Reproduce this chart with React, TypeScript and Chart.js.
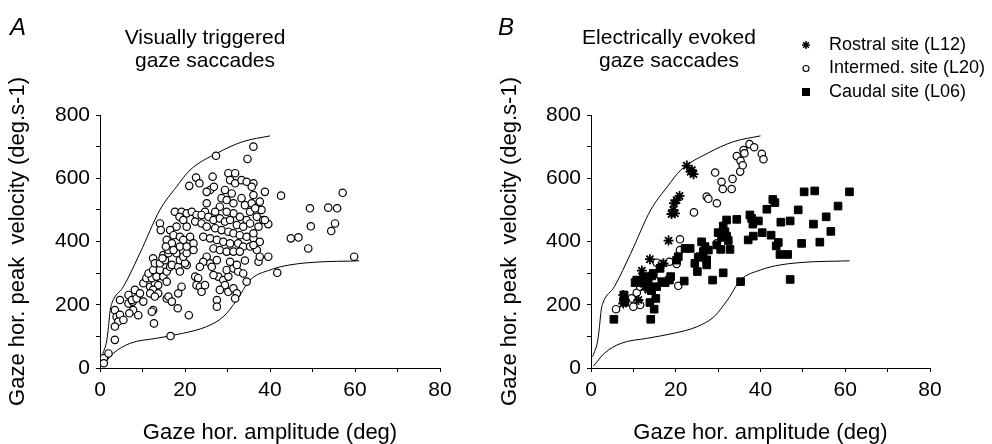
import React, { useEffect, useRef } from 'react';
import { Chart, registerables } from 'chart.js';

Chart.register(...registerables);

const FONT = '"Liberation Sans", Arial, Helvetica, sans-serif';

type Pt = [number, number];

// Tick labels
const xTickLabels = [0, 20, 40, 60, 80];
const yTickLabels = [0, 200, 400, 600, 800];

// Envelope curves (same in both panels)
const upperEnvelope: Pt[] = [
  [0.4, 36], [1.6, 88], [2.0, 131], [2.4, 183], [2.8, 205], [5.5, 257], [9.4, 363],
  [14.1, 500], [18, 573], [21.2, 626], [27.5, 679], [33.7, 716], [40, 734],
];
const lowerEnvelope: Pt[] = [
  [0.6, 6], [3.1, 46], [7.1, 78], [13.3, 94], [19.6, 110], [25.1, 131], [29, 162],
  [32.2, 215], [35.3, 278], [40, 310], [44.7, 326], [52.5, 336], [58.8, 338], [61, 339],
];

// Panel A: visually triggered gaze saccades
const visualSaccades: Pt[] = [
  [0.9, 31], [2.0, 46], [0.9, 15], [3.5, 89],
  [3.5, 183], [3.9, 162], [4.7, 168], [4.3, 147], [5.5, 152], [3.5, 131], [4.7, 215],
  [6.7, 204], [7.7, 210], [7.8, 183], [6.9, 173], [9.0, 167], [6.7, 231], [7.5, 215], [8.6, 220],
  [8.2, 247], [9.4, 236], [10.2, 210], [10.2, 268], [10.9, 284],
  [11.8, 257], [12.9, 268], [13.7, 262], [12.5, 247], [11.8, 236], [13.7, 236], [12.9, 226],
  [15.7, 220], [16.1, 226], [16.9, 210], [18.4, 236], [19.2, 257],
  [12.5, 183], [12.2, 178], [12.7, 141], [18.3, 189], [20.9, 167], [16.6, 101],
  [12.2, 284], [13.3, 289], [14.9, 289], [15.7, 273], [11.4, 299], [12.5, 310], [14.1, 310],
  [15.7, 305], [16.5, 320], [16.9, 326], [18.4, 320], [18.8, 305], [20.4, 326], [18.8, 341],
  [12.5, 347], [12.9, 331], [14.1, 331], [15.3, 341], [14.9, 357], [16.1, 363], [18.0, 363], [19.6, 368],
  [20.0, 331], [19.6, 352], [20.4, 363],
  [22.4, 289], [23.1, 284], [22.7, 262], [23.5, 257], [23.9, 241], [24.7, 262],
  [27.5, 215], [27.5, 194],
  [17.6, 494], [19.2, 494], [20.4, 489], [21.6, 494], [22.7, 484], [18.7, 478], [19.6, 468],
  [18.0, 447], [20.4, 447], [22.4, 463], [23.9, 457], [14.1, 457], [14.3, 436], [16.5, 436],
  [17.3, 420], [15.7, 405], [16.9, 394], [18.8, 415], [19.6, 405], [21.2, 415], [16.1, 373],
  [17.3, 373], [18.8, 384], [20.4, 384], [22.0, 394], [22.0, 373], [15.5, 384], [14.7, 347],
  [21.0, 576], [22.6, 602], [23.4, 584],
  [29.4, 563], [31.0, 552], [28.6, 537], [29.8, 531], [31.4, 521], [33.3, 537], [34.1, 515],
  [35.7, 521], [37.6, 526], [38.0, 500], [36.9, 478], [35.3, 494], [34.5, 468], [32.9, 478],
  [31.4, 489], [29.8, 494], [28.2, 510], [27.1, 494], [25.1, 521], [24.7, 494], [23.9, 484],
  [25.5, 478], [26.7, 468], [28.2, 473], [29.4, 463], [30.6, 468], [32.2, 452], [33.7, 447],
  [35.3, 457], [37.3, 447], [38.4, 468], [25.1, 447], [27.1, 442], [28.6, 436], [30.2, 431],
  [31.4, 426], [32.9, 420], [34.5, 415], [36.1, 410], [37.6, 399], [24.3, 415], [25.9, 410],
  [27.5, 405], [29.0, 399], [30.6, 394], [32.5, 394], [33.7, 384], [35.3, 384], [36.9, 373],
  [26.7, 378], [28.2, 373], [29.8, 368], [31.4, 368], [32.9, 368],
  [26.5, 605], [30.2, 616], [31.8, 616], [30.6, 594], [31.8, 584], [33.3, 594], [34.5, 589],
  [36.1, 584], [35.7, 573], [36.1, 547], [38.8, 557], [25.9, 563], [25.1, 557],
  [27.3, 671], [34.7, 661], [36.1, 700], [26.8, 573],
  [27.8, 289], [26.7, 294], [29.0, 278], [30.2, 289], [29.8, 310], [31.4, 315], [32.5, 305],
  [33.7, 299], [34.5, 273], [29.4, 262], [28.2, 247], [30.2, 241], [31.4, 252], [32.2, 236],
  [31.8, 220], [37.3, 336], [37.6, 352],
  [25.1, 352], [27.5, 341], [25.9, 331], [24.3, 336], [23.5, 320], [26.3, 320], [30.6, 336],
  [32.2, 326], [34.1, 340],
  [36.1, 426], [36.1, 389], [39.6, 352], [39.6, 455], [38.8, 468], [36.5, 505],
  [42.6, 545], [41.7, 301],
  [44.9, 410], [46.7, 413], [49.0, 378], [49.4, 505], [49.6, 448], [53.7, 507], [55.8, 505],
  [55.3, 457], [54.4, 433], [57.1, 554], [59.8, 352],
];

// Panel B: electrically evoked gaze saccades
const rostralSite: Pt[] = [
  [22.6, 640], [23.8, 626], [24.2, 613], [23.5, 620], [20.9, 544], [20.2, 531], [19.6, 521],
  [19.4, 500], [19.0, 487], [19.8, 489], [18.3, 403], [13.9, 344], [12.0, 308], [12.4, 268],
  [12.7, 257], [13.5, 247], [7.6, 231], [8.0, 215], [7.6, 204], [11.2, 215], [13.9, 252], [17.1, 331],
];
const intermedSite: Pt[] = [
  [5.9, 186], [7.6, 215], [9.6, 220], [11.6, 199], [10.0, 194], [10.8, 238], [11.6, 257],
  [15.1, 275], [15.5, 333], [16.7, 329], [18.5, 336], [20.2, 329], [21.0, 407], [21.0, 373],
  [20.6, 260], [24.3, 492], [27.3, 542], [27.7, 535], [29.7, 521], [29.3, 618], [30.8, 589],
  [31.1, 566], [33.2, 566], [33.4, 598], [34.4, 670], [35.3, 655], [35.2, 621], [35.8, 641],
  [36.0, 689], [36.2, 679], [37.4, 708], [38.5, 698], [40.3, 677], [40.7, 660], [29.7, 394],
];
const caudalSite: Pt[] = [
  [5.4, 154], [14.1, 154], [14.9, 186], [13.9, 207], [15.3, 220], [14.3, 245], [15.5, 257],
  [13.5, 273], [14.3, 291], [14.7, 299], [10.4, 270], [10.8, 278], [12.4, 270], [12.4, 289],
  [7.8, 231], [8.0, 208],
  [16.3, 315], [16.7, 273], [17.5, 270], [18.5, 278], [18.8, 289], [20.6, 352], [20.2, 341],
  [22.2, 378], [23.4, 378], [22.0, 275], [24.5, 331], [25.3, 350], [25.1, 305], [25.7, 352],
  [26.1, 399], [26.9, 384], [27.7, 373], [26.5, 368], [27.3, 342], [27.3, 326], [28.7, 278],
  [30.0, 428], [31.6, 431], [32.0, 417], [30.8, 413], [32.4, 403], [32.8, 375], [30.6, 375],
  [29.7, 389], [31.2, 301], [35.3, 273], [34.4, 470], [32.0, 468], [31.2, 449], [37.5, 484],
  [37.9, 473], [38.2, 455], [39.5, 465], [41.5, 502], [42.9, 533], [43.4, 523], [48.9, 500],
  [50.3, 557], [44.8, 461], [47.0, 465], [40.4, 428], [42.5, 420], [38.3, 417], [37.1, 405],
  [44.2, 397], [43.7, 386], [49.7, 394], [44.6, 359], [46.4, 359], [47.0, 280],
  [52.8, 560], [61.0, 557], [58.3, 512], [55.5, 478], [56.6, 432], [52.5, 455], [54.0, 398],
];

const toXY = (pts: Pt[]) => pts.map(([x, y]) => ({ x, y }));

function buildScales(yAxisWidth: number, yTitlePad: number) {
  const tickFont = { family: FONT, size: 21 };
  const titleFont = { family: FONT, size: 22, lineHeight: 1 };
  return {
    x: {
      type: 'linear',
      min: 0,
      max: 80,
      ticks: {
        stepSize: 10,
        autoSkip: false,
        maxRotation: 0,
        color: '#000',
        font: tickFont,
        padding: 6,
        callback: (v: number) => (xTickLabels.includes(v) ? String(v) : ''),
      },
      grid: { display: true, drawOnChartArea: false, drawTicks: true, tickLength: 4, color: '#000' },
      border: { display: true, color: '#000', width: 1 },
      title: {
        display: true,
        text: 'Gaze hor. amplitude (deg)',
        color: '#000',
        font: titleFont,
        padding: { top: 0, bottom: 0 },
      },
      afterFit: (s: any) => {
        s.height = 76;
      },
    },
    y: {
      type: 'linear',
      min: 0,
      max: 800,
      ticks: {
        stepSize: 100,
        autoSkip: false,
        color: '#000',
        font: tickFont,
        padding: 6,
        callback: (v: number) => (yTickLabels.includes(v) ? String(v) : ''),
      },
      grid: { display: true, drawOnChartArea: false, drawTicks: true, tickLength: 4, color: '#000' },
      border: { display: true, color: '#000', width: 1 },
      title: {
        display: true,
        text: 'Gaze hor. peak  velocity (deg.s-1)',
        color: '#000',
        font: titleFont,
        padding: { top: yTitlePad, bottom: 0 },
      },
      afterFit: (s: any) => {
        s.width = yAxisWidth;
      },
    },
  };
}

function envelopeDatasets() {
  const base = {
    showLine: true,
    pointRadius: 0,
    borderColor: '#000',
    borderWidth: 1,
    cubicInterpolationMode: 'monotone',
    fill: false,
    order: 2,
  };
  return [
    { ...base, label: 'upper', data: toXY(upperEnvelope) },
    { ...base, label: 'lower', data: toXY(lowerEnvelope) },
  ];
}

function drawAsterisk(ctx: CanvasRenderingContext2D, x: number, y: number, r: number) {
  ctx.beginPath();
  for (let i = 0; i < 4; i++) {
    const a = (i * Math.PI) / 4;
    ctx.moveTo(x - r * Math.cos(a), y - r * Math.sin(a));
    ctx.lineTo(x + r * Math.cos(a), y + r * Math.sin(a));
  }
  ctx.stroke();
}

function makeTextPlugin(letter: string, letterX: number, titleLines: string[], titleX: number, legend: boolean) {
  return {
    id: 'panelText' + letter,
    afterDraw(chart: any) {
      const ctx: CanvasRenderingContext2D = chart.ctx;
      ctx.save();
      ctx.fillStyle = '#000';
      ctx.strokeStyle = '#000';
      ctx.textBaseline = 'middle';
      ctx.textAlign = 'center';
      ctx.font = `italic 24px ${FONT}`;
      ctx.fillText(letter, letterX, 28);
      ctx.textBaseline = 'alphabetic';
      ctx.font = `21px ${FONT}`;
      titleLines.forEach((t, i) => ctx.fillText(t, titleX, 44 + i * 22.5));
      if (legend) {
        const items = ['Rostral site (L12)', 'Intermed. site (L20)', 'Caudal site (L06)'];
        const mx = 310;
        const tx = 333;
        ctx.font = `18px ${FONT}`;
        ctx.textAlign = 'left';
        ctx.textBaseline = 'middle';
        items.forEach((t, i) => {
          const cy = 45 + i * 23.5;
          ctx.fillStyle = '#000';
          ctx.fillText(t, tx, cy);
          ctx.lineWidth = 1.5;
          if (i === 0) drawAsterisk(ctx, mx, cy, 4);
          if (i === 1) {
            ctx.lineWidth = 1.1;
            ctx.beginPath();
            ctx.arc(mx, cy, 3, 0, Math.PI * 2);
            ctx.stroke();
          }
          if (i === 2) ctx.fillRect(mx - 4, cy - 4, 8, 8);
        });
      }
      ctx.restore();
    },
  };
}

function PanelChart(props: { left: number; config: () => any }) {
  const ref = useRef<HTMLCanvasElement | null>(null);
  useEffect(() => {
    if (!ref.current) return;
    const chart = new Chart(ref.current, props.config());
    return () => chart.destroy();
  }, []);
  return (
    <canvas
      ref={ref}
      width={496}
      height={444}
      style={{ position: 'absolute', left: props.left, top: 0, width: 496, height: 444 }}
    />
  );
}

function configA() {
  return {
    type: 'scatter',
    data: {
      datasets: [
        {
          label: 'Visually triggered',
          data: toXY(visualSaccades),
          pointStyle: 'circle',
          pointRadius: 3.7,
          pointBorderWidth: 1.2,
          backgroundColor: '#fff',
          borderColor: '#000',
          order: 1,
        },
        ...envelopeDatasets(),
      ],
    },
    options: {
      animation: false,
      responsive: false,
      devicePixelRatio: 1,
      layout: { padding: { top: 115, right: 56, left: 0, bottom: 0 } },
      scales: buildScales(100, 7),
      plugins: { legend: { display: false }, tooltip: { enabled: false } },
    },
    plugins: [makeTextPlugin('A', 18, ['Visually triggered', 'gaze saccades'], 205, false)],
  };
}

function configB() {
  return {
    type: 'scatter',
    data: {
      datasets: [
        {
          label: 'Caudal site (L06)',
          data: toXY(caudalSite),
          pointStyle: 'rect',
          pointRadius: 5.4,
          pointBorderWidth: 1,
          backgroundColor: '#000',
          borderColor: '#000',
          order: 1,
        },
        {
          label: 'Intermed. site (L20)',
          data: toXY(intermedSite),
          pointStyle: 'circle',
          pointRadius: 3.7,
          pointBorderWidth: 1.2,
          backgroundColor: '#fff',
          borderColor: '#000',
          order: 1,
        },
        {
          label: 'Rostral site (L12)',
          data: toXY(rostralSite),
          pointStyle: 'star',
          pointRadius: 5,
          pointBorderWidth: 1.8,
          backgroundColor: '#000',
          borderColor: '#000',
          order: 0,
        },
        ...envelopeDatasets(),
      ],
    },
    options: {
      animation: false,
      responsive: false,
      devicePixelRatio: 1,
      layout: { padding: { top: 115, right: 62, left: 0, bottom: 0 } },
      scales: buildScales(95, 3),
      plugins: { legend: { display: false }, tooltip: { enabled: false } },
    },
    plugins: [makeTextPlugin('B', 10, ['Electrically evoked', 'gaze saccades'], 173, true)],
  };
}

export default function App() {
  return (
    <div style={{ position: 'absolute', left: 0, top: 0, width: 992, height: 444, background: '#fff' }}>
      <PanelChart left={0} config={configA} />
      <PanelChart left={496} config={configB} />
    </div>
  );
}
